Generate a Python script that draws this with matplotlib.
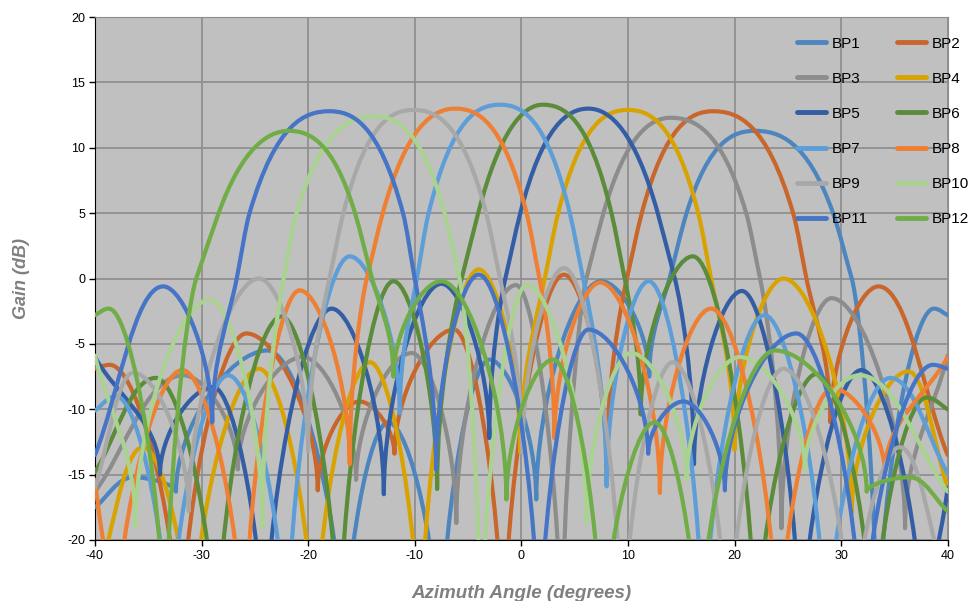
import matplotlib
matplotlib.use("Agg")
import matplotlib.pyplot as plt
from matplotlib.path import Path
from matplotlib.patches import PathPatch
from matplotlib.lines import Line2D

plt.rcParams['font.family'] = ['Liberation Sans', 'DejaVu Sans']
plt.rcParams['axes.unicode_minus'] = False

# beam patterns: lobe peaks, nulls and main-lobe crossings
# (nulls that fall below the -20 dB floor are estimated at -30)
bp1_x = [-40, -36.4, -32.4, -23.8, -16.6, -12.5, -7.6, -3.0, 1.4, 7.5, 12.0, 13.9, 15.5, 21.9, 29.25, 31.0, 33.4, 38.7, 40]
bp1_y = [-17.5, -15.2, -16.3, -5.5, -30, -11.0, -30, -6.2, -16.9, -0.2, -7.5, 0, 5, 11.3, 5, 0, -30, -2.3, -2.8]

bp2_x = [-40, -38.6, -32.0, -25.8, -19.1, -15.2, -11.9, -6.3, -1.7, 4.0, 8.0, 9.9, 11.3, 18.0, 25.5, 26.75, 29.0, 33.5, 40]
bp2_y = [-6.9, -6.6, -30, -4.2, -16.2, -9.4, -13.4, -3.9, -30, 0.3, -14.6, 0, 5, 12.8, 5, 0, -11.0, -0.6, -13.5]

bp3_x = [-40, -31.7, -26.6, -20.5, -15.5, -10.3, -6.1, -0.5, 3.8, 6.1, 7.7, 14.0, 21.1, 22.4, 24.4, 29.1, 36.0, 40]
bp3_y = [-16.3, -7.4, -14.6, -6.0, -15.4, -5.7, -18.7, -0.5, -30, 0, 5, 12.3, 5, 0, -19.1, -1.5, -19.1, -5.9]

bp4_x = [-40, -35.5, -31.0, -24.6, -19.4, -14.2, -9.5, -4.0, -0.1, 2.2, 3.45, 10.0, 16.6, 17.8, 20.0, 24.6, 31.0, 36.3, 40]
bp4_y = [-24, -12.9, -30, -6.9, -30, -6.4, -30, 0.7, -13.3, 0, 5, 12.9, 5, 0, -13.1, 0.0, -17.9, -7.1, -16.0]

bp5_x = [-40, -33.9, -28.9, -24.1, -17.8, -12.9, -7.5, -3.0, -1.5, -0.1, 6.3, 12.8, 14.4, 16.2, 20.7, 26.2, 31.9, 37.8, 40]
bp5_y = [-6.0, -15.0, -8.3, -30, -2.3, -16.5, -0.4, -12.2, 0, 5, 13.0, 5, 0, -14.2, -0.95, -30, -7.0, -30, -16.0]

bp6_x = [-40, -34.3, -28.6, -22.5, -17.1, -12.0, -7.9, -5.6, -4.05, 2.0, 8.46, 9.7, 11.2, 16.1, 22.0, 27.7, 33.0, 38.0, 40]
bp6_y = [-14.8, -7.6, -30, -2.9, -30, -0.2, -16.1, 0, 5, 13.3, 5, 0, -10.4, 1.7, -30, -7.3, -30, -9.1, -10.0]

bp7_x = [-40, -38.0, -33.0, -27.5, -22.0, -16.1, -11.4, -9.8, -8.7, -2.0, 4.55, 5.8, 8.0, 11.95, 17.1, 22.8, 28.6, 34.6, 40]
bp7_y = [-10.1, -9.0, -30, -7.4, -30, 1.7, -10.3, 0, 5, 13.3, 5, 0, -15.9, -0.2, -30, -2.8, -30, -7.6, -14.9]

bp8_x = [-40, -38.2, -31.8, -26.0, -20.8, -16.1, -14.5, -13.0, -6.2, 0.5, 1.7, 3.1, 7.4, 13.0, 17.8, 24.1, 29.2, 34.1, 40]
bp8_y = [-15.4, -30, -7.0, -30, -0.9, -14.2, 0, 5, 13.0, 5, 0, -12.2, -0.3, -16.4, -2.3, -30, -8.4, -14.9, -6.0]

bp9_x = [-40, -36.4, -31.2, -24.6, -20.0, -18.0, -16.7, -10.1, -3.3, -2.0, 0.1, 4.0, 9.5, 14.2, 19.4, 24.6, 31.0, 35.5, 40]
bp9_y = [-16.0, -7.2, -17.8, 0.0, -13.2, 0, 5, 12.9, 5, 0, -13.3, 0.8, -30, -6.4, -30, -6.9, -30, -12.9, -24]

bp10_x = [-40, -36.2, -29.2, -24.3, -22.3, -21.1, -13.8, -7.2, -5.8, -3.8, 0.5, 6.1, 10.3, 15.5, 20.5, 26.6, 31.7, 40]
bp10_y = [-5.9, -19.0, -1.6, -19.0, 0, 5, 12.4, 5, 0, -30, -0.5, -18.7, -5.7, -15.4, -6.0, -14.6, -7.4, -16.3]

bp11_x = [-40, -33.6, -29.0, -26.7, -25.5, -18.0, -11.1, -10.0, -8.0, -4.0, 1.7, 6.3, 11.9, 15.2, 19.1, 25.8, 32.0, 38.6, 40]
bp11_y = [-13.5, -0.6, -11.0, 0, 5, 12.8, 5, 0, -14.6, 0.3, -30, -3.9, -13.4, -9.4, -16.2, -4.2, -30, -6.6, -6.9]

bp12_x = [-40, -38.7, -33.4, -30.5, -28.4, -21.8, -15.6, -14.0, -12.0, -7.5, -1.4, 3.0, 7.6, 12.5, 16.6, 23.8, 32.4, 36.4, 40]
bp12_y = [-2.8, -2.3, -30, 0, 5, 11.3, 5, 0, -7.5, -0.2, -16.9, -6.2, -30, -11.0, -30, -5.5, -16.3, -15.2, -17.8]

labels = ['BP1', 'BP2', 'BP3', 'BP4', 'BP5', 'BP6', 'BP7', 'BP8', 'BP9', 'BP10', 'BP11', 'BP12']
series_x = [bp1_x, bp2_x, bp3_x, bp4_x, bp5_x, bp6_x, bp7_x, bp8_x, bp9_x, bp10_x, bp11_x, bp12_x]
series_y = [bp1_y, bp2_y, bp3_y, bp4_y, bp5_y, bp6_y, bp7_y, bp8_y, bp9_y, bp10_y, bp11_y, bp12_y]
colors = ['#4d85bf', '#c9662b', '#8c8c8c', '#d8a300', '#335ea6', '#5a8c3a',
          '#5d9ed8', '#ee7f33', '#a8a8a8', '#aad291', '#4674c6', '#70ad47']


def kind_of(ys, i):
    if i == 0 or i == len(ys) - 1:
        return 'e'
    if ys[i] > ys[i - 1] and ys[i] > ys[i + 1]:
        return 'p'
    if ys[i] < ys[i - 1] and ys[i] < ys[i + 1]:
        return 'n'
    return 'm'


def slope_at(xs, ys, i):
    if i == 0:
        return (ys[1] - ys[0]) / (xs[1] - xs[0])
    if i == len(xs) - 1:
        return (ys[-1] - ys[-2]) / (xs[-1] - xs[-2])
    # main-lobe points: look toward the peak
    up = ys[i + 1] > ys[i - 1]
    j = i + 1 if up else i - 1
    sec_up = (ys[j] - ys[i]) / (xs[j] - xs[i])
    if kind_of(ys, j) != 'p':
        return sec_up
    k = i - 1 if up else i + 1
    sec_down = (ys[k] - ys[i]) / (xs[k] - xs[i])
    m = 0.5 * (2.25 * sec_up + sec_down)
    return min(m, 2.7 * sec_up) if sec_up > 0 else max(m, 2.7 * sec_up)


# smoothed line like the spreadsheet one: round tops on lobes, sharp nulls
def smooth_path(xs, ys):
    verts = [(xs[0], ys[0])]
    codes = [Path.MOVETO]
    for i in range(len(xs) - 1):
        x0, y0, x1, y1 = xs[i], ys[i], xs[i + 1], ys[i + 1]
        h = x1 - x0
        k0, k1 = kind_of(ys, i), kind_of(ys, i + 1)
        if k0 == 'n':
            c1 = (x0, y0 + 0.45 * (y1 - y0))
        elif k0 == 'p':
            a = 0.3 if k1 == 'm' else 0.42
            c1 = (x0 + a * h, y0)
        else:
            m = slope_at(xs, ys, i)
            c1 = (x0 + h / 3, y0 + m * h / 3)
        if k1 == 'n':
            c2 = (x1, y1 + 0.45 * (y0 - y1))
        elif k1 == 'p':
            a = 0.3 if k0 == 'm' else 0.42
            c2 = (x1 - a * h, y1)
        else:
            m = slope_at(xs, ys, i + 1)
            c2 = (x1 - h / 3, y1 - m * h / 3)
        verts += [c1, c2, (x1, y1)]
        codes += [Path.CURVE4] * 3
    return Path(verts, codes)


fig = plt.figure(figsize=(9.69, 6.01), dpi=100)
ax = fig.add_axes([0.098, 0.1015, 0.88, 0.87])
ax.set_facecolor('#c0c0c0')

for xs, ys, c in zip(series_x, series_y, colors):
    ax.add_patch(PathPatch(smooth_path(xs, ys), fill=False, edgecolor=c,
                           lw=3.0, capstyle='round', joinstyle='round', zorder=3))

ax.set_xlim(-40, 40)
ax.set_ylim(-20, 20)
ax.set_xticks(range(-40, 41, 10))
ax.set_yticks(range(-20, 21, 5))
ax.grid(True, color='#8c8c8c', lw=1.2, zorder=1)
ax.set_axisbelow(True)
ax.tick_params(labelsize=9, length=4, width=1, colors='black', pad=3)
for s in ['top', 'right']:
    ax.spines[s].set_color('#8c8c8c')
for s in ['left', 'bottom']:
    ax.spines[s].set_color('black')

ax.set_xlabel('Azimuth Angle (degrees)', fontsize=13.5, fontweight='bold',
              fontstyle='italic', color='#808080', labelpad=17)
ax.set_ylabel('Gain (dB)', fontsize=13, fontweight='bold',
              fontstyle='italic', color='#808080', labelpad=27)

handles = [Line2D([], [], color=c, lw=3.5, solid_capstyle='round') for c in colors]
order = [0, 2, 4, 6, 8, 10, 1, 3, 5, 7, 9, 11]
fig.legend([handles[i] for i in order], [labels[i] for i in order],
           loc='upper left', bbox_to_anchor=(789 / 969, 1 - 29 / 601),
           ncol=2, frameon=False, fontsize=11, handlelength=1.95,
           handletextpad=0.33, columnspacing=1.9, labelspacing=1.38,
           borderpad=0)

fig.savefig('out.png', dpi=100)
